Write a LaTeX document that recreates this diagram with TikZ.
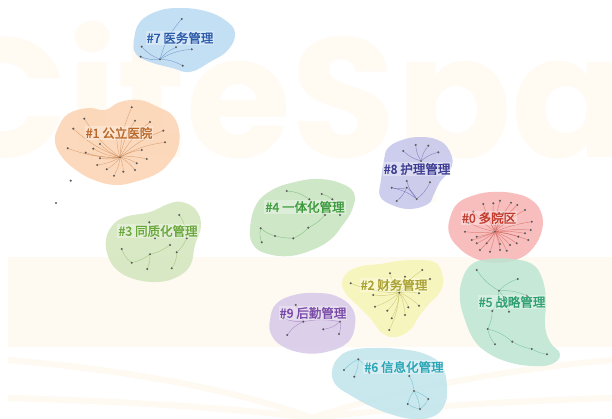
\documentclass[tikz,border=0pt]{standalone}
\usepackage{fontspec}
\setmainfont{Liberation Sans}
\newfontfamily\cjk[FakeBold=1.6]{Noto Sans CJK SC}
\newfontfamily\wmfont{Poppins}
\definecolor{wm}{RGB}{255,250,242}
\definecolor{bk}{RGB}{254,250,242}
\definecolor{b7}{RGB}{185,218,243}\definecolor{l7}{RGB}{43,90,168}
\definecolor{b1}{RGB}{252,211,178}\definecolor{l1}{RGB}{184,104,42}
\definecolor{b3}{RGB}{211,230,189}\definecolor{l3}{RGB}{106,168,60}
\definecolor{b4}{RGB}{198,227,190}\definecolor{l4}{RGB}{60,154,60}
\definecolor{b8}{RGB}{197,197,234}\definecolor{l8}{RGB}{58,58,144}
\definecolor{b0}{RGB}{247,179,179}\definecolor{l0}{RGB}{192,57,43}
\definecolor{b2}{RGB}{246,245,182}\definecolor{l2}{RGB}{168,160,48}
\definecolor{b5}{RGB}{189,229,211}\definecolor{l5}{RGB}{46,160,112}
\definecolor{b9}{RGB}{215,200,232}\definecolor{l9}{RGB}{122,74,168}
\definecolor{b6}{RGB}{191,228,236}\definecolor{l6}{RGB}{42,165,181}
\tikzset{
  dot/.style={circle,inner sep=0pt,minimum size=2.3pt,fill=black!65},
  edge/.style={line width=0.45pt,opacity=0.45},
  blob/.style={opacity=0.85},
  lab/.style={font=\cjk\fontsize{12.5}{13}\selectfont,inner sep=1pt,fill=white,fill opacity=0.3,text opacity=1},
}
\begin{document}
\begin{tikzpicture}[x=1pt,y=-1pt]
\useasboundingbox (0,0) rectangle (612,419);
\fill[white] (0,0) rectangle (612,419);
% watermark
\node[anchor=west,text=wm,font=\wmfont\bfseries\fontsize{170}{170}\selectfont,inner sep=0pt] (wmk) at (-62,112) {CiteSpace};
\fill[bk] (8,257) rectangle (612,347);
\draw[bk,line width=6pt] (8,360) .. controls (150,372) and (250,395) .. (312,418) .. controls (380,395) and (480,372) .. (612,360);
\draw[bk,line width=6pt] (8,398) .. controls (150,402) and (250,410) .. (312,418) .. controls (380,410) and (480,402) .. (612,398);

% ---------- #7
\fill[b7,blob] plot[smooth cycle,tension=0.7] coordinates {(134,40) (140,22) (158,11) (180,8) (205,11) (225,20) (235,33) (228,50) (210,62) (190,72) (172,68) (150,62) (136,54)};
\node[dot] (g0) at (160,59.3) {};
\foreach \n/\x/\y in {1/181.7/19,2/141.7/46.7,3/176/47.3,4/191.7/49.3,5/140.7/56.7,6/182.7/65.7}
  \node[dot] (g\n) at (\x,\y) {};
\foreach \n in {1,...,6} \draw[edge,l7] (g0) to[bend left=12] (g\n);
\node[lab,text=l7] (lg) at (180,38) {\#7 医务管理};

% ---------- #1
\fill[b1,blob] plot[smooth cycle,tension=0.7] coordinates {(58,128) (68,114) (88,108) (105,110) (120,102) (140,100) (158,107) (172,115) (179,130) (178,148) (170,162) (158,173) (138,181) (116,185) (94,180) (76,170) (62,157) (55,142)};
\node[dot] (a0) at (120,157.3) {};
\foreach \n/\x/\y in {1/131.7/107.3,2/84.3/118.7,3/73.3/128.7,4/135/120.7,5/150/122,6/117.3/129.3,7/163.3/130.7,8/165/142.3,9/100/144,10/93.3/148.7,11/67.7/148.3,12/85.7/152.7,13/141.7/150,14/100/158.3,15/146.7/159,16/136.7/163.3,17/97.3/165,18/106.7/169.3,19/123.3/171.7,20/135/170,21/114/175.7}
  \node[dot] (a\n) at (\x,\y) {};
\foreach \n in {1,...,21} \draw[edge,l1] (a0) to[bend left=10] (a\n);
\node[dot] (iso1) at (70.7,180.7) {};
\node[dot] (iso2) at (56,203) {};
\node[lab,text=l1] (la) at (119,133) {\#1 公立医院};

% ---------- #3
\fill[b3,blob] plot[smooth cycle,tension=0.7] coordinates {(106,240) (112,226) (125,217) (150,212) (168,204) (182,202) (196,210) (201,226) (195,245) (190,266) (175,278) (156,282) (134,279) (117,270) (108,256)};
\foreach \n/\x/\y in {1/179.3/215,2/149.3/222.3,3/186.7/238.3,4/155/238.3,5/170/245,6/121.7/249,7/176.7/252.3,8/150/254.3,9/131.7/262.7,10/147.3/269,11/171.7/268.3}
  \node[dot] (c\n) at (\x,\y) {};
\draw[edge,l3] (c1) to[bend left=15] (c3);
\draw[edge,l3] (c2) to[bend right=15] (c4);
\draw[edge,l3] (c5) to[bend left=10] (c8);
\draw[edge,l3] (c8) to[bend left=10] (c9);
\draw[edge,l3] (c9) to[bend left=15] (c6);
\draw[edge,l3] (c7) to[bend left=15] (c11);
\draw[edge,l3] (c10) to[bend right=10] (c8);
\draw[edge,l3] (c3) to[bend left=10] (c7);
\node[lab,text=l3] (lc) at (158,231) {\#3 同质化管理};

% ---------- #4
\fill[b4,blob] plot[smooth cycle,tension=0.7] coordinates {(250,230) (256,205) (272,190) (295,182) (318,179) (340,183) (354,193) (352,210) (342,226) (330,240) (312,250) (290,256) (268,254) (254,246)};
\foreach \n/\x/\y in {1/286.7/191,2/321.7/194,3/309.3/199.3,4/332.3/199.3,5/325/215,6/340/215,7/308.3/227.7,8/260.7/228.3,9/275/236,10/293.3/238.3,11/261.7/242.3}
  \node[dot] (d\n) at (\x,\y) {};
\draw[edge,l4] (d1) to[bend left=15] (d3);
\draw[edge,l4] (d2) to[bend left=10] (d4);
\draw[edge,l4] (d4) to[bend left=15] (d6);
\draw[edge,l4] (d3) to[bend right=10] (d5);
\draw[edge,l4] (d5) to[bend left=10] (d7);
\draw[edge,l4] (d7) to[bend left=10] (d10);
\draw[edge,l4] (d10) to[bend left=5] (d9);
\draw[edge,l4] (d9) to[bend left=10] (d8);
\draw[edge,l4] (d8) to[bend right=15] (d11);
\node[lab,text=l4] (ld) at (305,207) {\#4 一体化管理};

% ---------- #8
\fill[b8,blob] plot[smooth cycle,tension=0.7] coordinates {(384,160) (388,148) (402,140) (420,137) (438,140) (449,150) (452,166) (440,182) (434,194) (428,204) (410,209) (392,205) (380,196) (381,180)};
\node[dot] (h0) at (421,161) {};
\foreach \n/\x/\y in {1/415.7/145,2/428.3/145.7,3/403.3/151,4/438.3/152.3}
  \node[dot] (h\n) at (\x,\y) {};
\foreach \n in {1,...,4} \draw[edge,l8] (h0) to[bend left=12] (h\n);
\node[dot] (h5) at (406.7,187.7) {};
\foreach \n/\x/\y in {6/391.7/187.7,7/396.7/201,8/416.7/199,9/430/182.3,10/406.7/181}
  \node[dot] (h\n) at (\x,\y) {};
\foreach \n in {6,7,8} \draw[edge,l8] (h5) to[bend left=12] (h\n);
\draw[edge,l8] (h9) to[bend left=12] (h8);
\draw[edge,l8] (h10) to[bend right=12] (h8);
\draw[edge,l8] (h6) to[bend left=12] (h8);
\node[lab,text=l8] (lh) at (417,169) {\#8 护理管理};

% ---------- #0
\fill[b0,blob] plot[smooth cycle,tension=0.7] coordinates {(450,218) (458,203) (475,195) (492,192) (512,193) (530,199) (541,212) (542,230) (533,248) (518,259) (495,263) (474,258) (458,247) (449,233)};
\node[dot] (e0) at (495,231.7) {};
\foreach \n/\x/\y in {1/483.3/204,2/493.3/203.3,3/500/200.7,4/511/202.7,5/517.3/205,6/473.3/211.7,7/525/210,8/531.7/221.7,9/468.3/222.7,10/530.7/230,11/465/231.7,12/525/233.3,13/476.7/236.7,14/518.3/236.7,15/528.3/240,16/476.7/243.3,17/516.7/243.3,18/486.7/243.3,19/500/244,20/510/245,21/480/250,22/490/251.7,23/500/250,24/506.7/250.7,25/471.7/240,26/503.3/213.3,27/488/213}
  \node[dot] (e\n) at (\x,\y) {};
\foreach \n in {1,...,27} \draw[edge,l0] (e0) to[bend left=6] (e\n);
\node[lab,text=l0] (le) at (489,218) {\#0 多院区};

% ---------- #2
\fill[b2,blob] plot[smooth cycle,tension=0.7] coordinates {(342,283) (348,272) (362,266) (380,264) (398,261) (418,260) (436,263) (443,278) (440,292) (428,305) (418,318) (410,330) (396,337) (382,333) (370,318) (356,304) (346,294)};
\node[dot] (b0) at (399.3,292.7) {};
\foreach \n/\x/\y in {1/422.3/270,2/390/273.3,3/405/276.7,4/430/279,5/350.7/283.3,6/379.3/280,7/419/293.3,8/373.3/295,9/375/306.7,10/408.3/307.3,11/419/305.7,12/387.3/310.7,13/405/315,14/391.7/318.3,15/389.3/330}
  \node[dot] (b\n) at (\x,\y) {};
\foreach \n in {1,...,15} \draw[edge,l2] (b0) to[bend left=10] (b\n);
\node[lab,text=l2] (lb) at (394,285) {\#2 财务管理};

% ---------- #5
\fill[b5,blob] plot[smooth cycle,tension=0.7] coordinates {(462,280) (472,264) (490,259) (512,259) (532,264) (542,278) (546,300) (545,325) (550,342) (560,354) (552,364) (532,366) (508,362) (488,353) (474,340) (465,320) (460,300)};
\node[dot] (f0) at (499,290.7) {};
\foreach \n/\x/\y in {1/476.7/270,2/517.7/279,3/526.7/295.7,4/492.3/311,5/509/311.7,6/487.7/329,7/512.3/341.7,8/495/344.3,9/531.7/349,10/547/354.3}
  \node[dot] (f\n) at (\x,\y) {};
\foreach \n in {1,...,5} \draw[edge,l5] (f0) to[bend left=12] (f\n);
\draw[edge,l5] (f4) to[bend left=10] (f6);
\draw[edge,l5] (f6) to[bend right=12] (f8);
\draw[edge,l5] (f6) to[bend left=12] (f7);
\draw[edge,l5] (f7) to[bend right=8] (f9);
\draw[edge,l5] (f9) to[bend right=8] (f10);
\node[lab,text=l5] (lf) at (512,302) {\#5 战略管理};

% ---------- #9
\fill[b9,blob] plot[smooth cycle,tension=0.7] coordinates {(270,320) (276,304) (294,295) (316,293) (336,296) (352,308) (355,326) (347,343) (326,352) (303,353) (282,346) (271,334)};
\foreach \n/\x/\y in {1/295.7/305,2/283.3/318.3,3/303.3/321.7,4/323.3/329.3,5/340/321.7,6/339/334,7/287.3/335}
  \node[dot] (i\n) at (\x,\y) {};
\draw[edge,l9] (i3) to[bend right=10] (i1);
\draw[edge,l9] (i3) to[bend left=10] (i2);
\draw[edge,l9] (i3) to[bend right=15] (i7);
\draw[edge,l9] (i3) to[bend left=10] (i5);
\draw[edge,l9] (i5) to[bend left=15] (i6);
\draw[edge,l9] (i4) to[bend right=15] (i5);
\node[lab,text=l9] (li) at (313,313) {\#9 后勤管理};

% ---------- #6
\fill[b6,blob] plot[smooth cycle,tension=0.7] coordinates {(332,372) (338,358) (352,350) (375,348) (400,349) (425,354) (442,366) (447,388) (444,406) (432,417) (412,419) (390,414) (370,406) (350,395) (336,385)};
\foreach \n/\x/\y in {1/358.3/359.3,2/344/370,3/369.3/372.7,4/354.3/376.7,5/409.3/376,6/414/391,7/428.3/399,8/407.7/404,9/420/409}
  \node[dot] (j\n) at (\x,\y) {};
\draw[edge,l6] (j1) to[bend right=10] (j2);
\draw[edge,l6] (j1) to[bend left=10] (j4);
\draw[edge,l6] (j1) to[bend left=12] (j3);
\draw[edge,l6] (j5) to[bend left=10] (j6);
\draw[edge,l6] (j6) to[bend left=10] (j7);
\draw[edge,l6] (j6) to[bend right=10] (j8);
\draw[edge,l6] (j6) to[bend left=10] (j9);
\draw[edge,l6] (j8) to[bend right=10] (j9);
\draw[edge,l6] (j7) to[bend left=10] (j9);
\node[lab,text=l6] (lj) at (404,367) {\#6 信息化管理};
\end{tikzpicture}
\end{document}
